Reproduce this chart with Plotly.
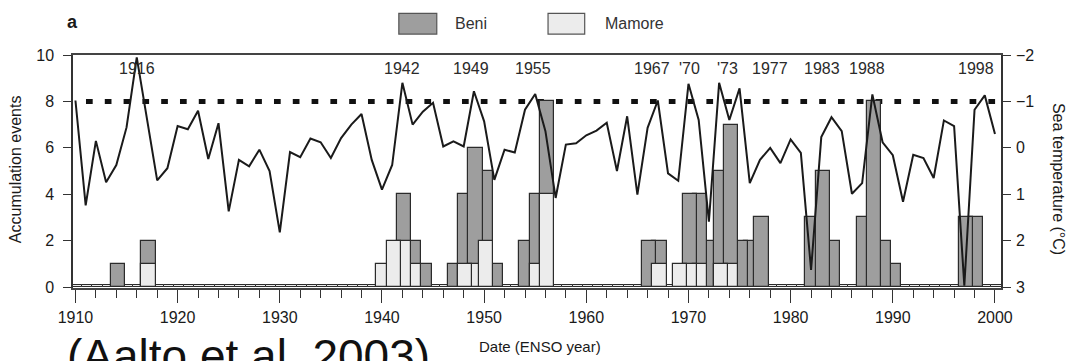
import plotly.graph_objects as go

# ---------------- data ----------------
years = list(range(1910, 2001))
sea_temp = [
    -1.02, 1.24, -0.15, 0.74, 0.37, -0.44, -1.95, -0.60, 0.70, 0.44,   # 1910-1919
    -0.47, -0.40, -0.80, 0.24, -0.53, 1.37, 0.26, 0.40, 0.04, 0.50,    # 1920-1929
    1.82, 0.09, 0.20, -0.20, -0.12, 0.22, -0.21, -0.50, -0.73, 0.26,   # 1930-1939
    0.90, 0.37, -1.40, -0.50, -0.78, -0.97, -0.03, -0.14, -0.03, -1.22, # 1940-1949
    -0.57, 0.69, 0.04, 0.10, -0.82, -1.16, -0.36, 1.08, -0.07, -0.10,  # 1950-1959
    -0.27, -0.37, -0.54, 0.50, -0.68, 1.01, -0.43, -1.02, 0.55, 0.71,  # 1960-1969
    -1.38, -0.60, 1.59, -1.40, -0.60, -1.28, 0.76, 0.26, 0.00, 0.33,   # 1970-1979
    -0.18, 0.11, 2.63, -0.23, -0.66, -0.36, 0.99, 0.76, -1.15, -0.12,  # 1980-1989
    0.16, 1.16, 0.15, 0.22, 0.65, -0.59, -0.47, 2.97, -0.82, -1.13,    # 1990-1999
    -0.30,                                                            # 2000
]

beni_years = [1914, 1917, 1942, 1943, 1944, 1947, 1948, 1949, 1950, 1951,
              1954, 1955, 1956, 1966, 1967, 1970, 1971, 1972, 1973, 1974,
              1975, 1976, 1977, 1982, 1983, 1984, 1987, 1988, 1989, 1990,
              1997, 1998]
beni_events = [1, 2, 4, 2, 1, 1, 4, 6, 5, 1,
               2, 4, 8, 2, 2, 4, 4, 2, 5, 7,
               2, 2, 3, 3, 5, 2, 3, 8, 2, 1,
               3, 3]

mamore_years = [1917, 1940, 1941, 1942, 1943, 1948, 1949, 1950, 1955, 1956,
                1967, 1969, 1970, 1971, 1973, 1974]
mamore_events = [1, 1, 2, 2, 1, 1, 1, 2, 1, 4,
                 1, 1, 1, 1, 1, 1]

label_years = [1916, 1942, 1949, 1955, 1967, 1970, 1973, 1977, 1983, 1988, 1998]
label_texts = ["1916", "1942", "1949", "1955", "1967", "'70", "'73",
               "1977", "1983", "1988", "1998"]

x_ticks = list(range(1910, 2001, 10))
left_ticks = [0, 2, 4, 6, 8, 10]
right_ticks = [-2, -1, 0, 1, 2, 3]
threshold_temp = -1

# ---------------- styling ----------------
FONT = "Liberation Sans, Arial, Helvetica, sans-serif"
INK = "#1a1a1a"
BENI_FILL = "#9e9e9e"
MAMORE_FILL = "#ececec"
EDGE = "#2b2b2b"
label_xshift = [0, 0, -3, -2, -6, 1, 8, 10, 1, -5, 1]


def draw_order(yrs, vals):
    # taller bars drawn on top; for equal heights the earlier year is on top
    pairs = sorted(zip(yrs, vals), key=lambda p: (p[1], -p[0]))
    return [p[0] for p in pairs], [p[1] for p in pairs]


bx, by = draw_order(beni_years, beni_events)
mx, my = draw_order(mamore_years, mamore_events)
event_years = set(beni_years) | set(mamore_years)
zero_years = [y for y in years if y not in event_years]

fig = go.Figure()

fig.add_trace(go.Bar(
    x=zero_years, y=[0.08] * len(zero_years), width=1.0, offset=-0.35,
    marker=dict(color=MAMORE_FILL, line=dict(color=EDGE, width=1)),
    showlegend=False, hoverinfo="skip", yaxis="y"))

fig.add_trace(go.Bar(
    x=bx, y=by, name="Beni", width=1.4, offset=-0.55,
    marker=dict(color=BENI_FILL, line=dict(color=EDGE, width=1.2)),
    showlegend=False, yaxis="y"))

fig.add_trace(go.Bar(
    x=mx, y=my, name="Mamore", width=1.4, offset=-0.55,
    marker=dict(color=MAMORE_FILL, line=dict(color=EDGE, width=1.2)),
    showlegend=False, yaxis="y"))

fig.add_trace(go.Scatter(
    x=years, y=sea_temp, mode="lines", yaxis="y2",
    line=dict(color=INK, width=2), showlegend=False))

# dotted threshold line
shapes = [dict(type="line", xref="paper", x0=0.014, x1=1, yref="y2",
               y0=threshold_temp, y1=threshold_temp, layer="below",
               line=dict(color="#111111", width=5, dash="6.7px,12.1px"))]

# custom legend boxes
shapes.append(dict(type="rect", xref="paper", yref="paper",
                   x0=0.3511, x1=0.392, y0=1.090, y1=1.179,
                   fillcolor=BENI_FILL, line=dict(color="#555555", width=1.2)))
shapes.append(dict(type="rect", xref="paper", yref="paper",
                   x0=0.5119, x1=0.5514, y0=1.090, y1=1.179,
                   fillcolor=MAMORE_FILL, line=dict(color="#555555", width=1.2)))

annotations = [
    dict(text="Beni", xref="paper", yref="paper", x=0.409, y=1.135,
         xanchor="left", yanchor="middle", showarrow=False,
         font=dict(size=16, color="#333333", family=FONT)),
    dict(text="Mamore", xref="paper", yref="paper", x=0.5708, y=1.135,
         xanchor="left", yanchor="middle", showarrow=False,
         font=dict(size=16, color="#333333", family=FONT)),
    dict(text="<b>a</b>", xref="paper", yref="paper", x=-0.001, y=1.14,
         xanchor="center", yanchor="middle", showarrow=False,
         font=dict(size=18, color=INK, family=FONT)),
    dict(text="Accumulation events", xref="paper", yref="paper",
         x=-0.0625, y=0.51, xanchor="center", yanchor="middle",
         textangle=-90, showarrow=False,
         font=dict(size=16, color=INK, family=FONT)),
    dict(text="Sea temperature (°C)", xref="paper", yref="paper",
         x=1.0615, y=0.468, xanchor="center", yanchor="middle",
         textangle=90, showarrow=False,
         font=dict(size=16, color=INK, family=FONT)),
    dict(text="Date (ENSO year)", xref="paper", yref="paper",
         x=0.503, y=-0.253, xanchor="center", yanchor="middle",
         showarrow=False, font=dict(size=15, color=INK, family=FONT)),
    dict(text="(Aalto et al. 2003)", xref="paper", yref="paper",
         x=-0.0086, y=-0.29, xanchor="left", yanchor="middle",
         showarrow=False, font=dict(size=46, color="#111111", family=FONT)),
]
for yr, txt, dx in zip(label_years, label_texts, label_xshift):
    annotations.append(dict(text=txt, x=yr, xref="x", yref="paper", y=0.944,
                            xanchor="center", yanchor="middle", xshift=dx,
                            showarrow=False,
                            font=dict(size=16, color="#2a2a2a", family=FONT)))

# the page body adds an 8px margin, so the figure is sized to the remaining area
fig.update_layout(
    width=1067, height=353, autosize=False,
    margin=dict(l=65, r=73.5, t=47, b=73),
    paper_bgcolor="white", plot_bgcolor="white",
    barmode="overlay", bargap=0,
    font=dict(family=FONT, color=INK, size=16),
    showlegend=False,
    shapes=shapes, annotations=annotations,
    xaxis=dict(range=[1909.76, 2000.59], tickvals=x_ticks,
               ticks="outside", ticklen=13, tickwidth=1.2, tickcolor="#333333",
               minor=dict(dtick=2, tick0=1910, ticks="outside", ticklen=8,
                          tickwidth=1, tickcolor="#333333", showgrid=False),
               showline=True, mirror=True, linecolor="#444444", linewidth=1.5,
               showgrid=False, zeroline=False, ticklabelstandoff=1,
               tickfont=dict(size=16, color=INK, family=FONT)),
    yaxis=dict(range=[-0.043, 10], tickvals=left_ticks,
               ticks="outside", ticklen=8, tickwidth=1.2, tickcolor="#333333",
               showline=True, linecolor="#333333", linewidth=1.5,
               showgrid=False, zeroline=False, ticklabelstandoff=6,
               tickfont=dict(size=16, color=INK, family=FONT)),
    yaxis2=dict(range=[3.02, -2], tickvals=right_ticks, overlaying="y",
                side="right", ticks="outside", ticklen=8, tickwidth=1.2,
                tickcolor="#333333", showline=True, linecolor="#333333",
                linewidth=1.5, showgrid=False, zeroline=False,
                ticklabelstandoff=2,
                tickfont=dict(size=16, color=INK, family=FONT)),
)

fig.write_html("out.html")
